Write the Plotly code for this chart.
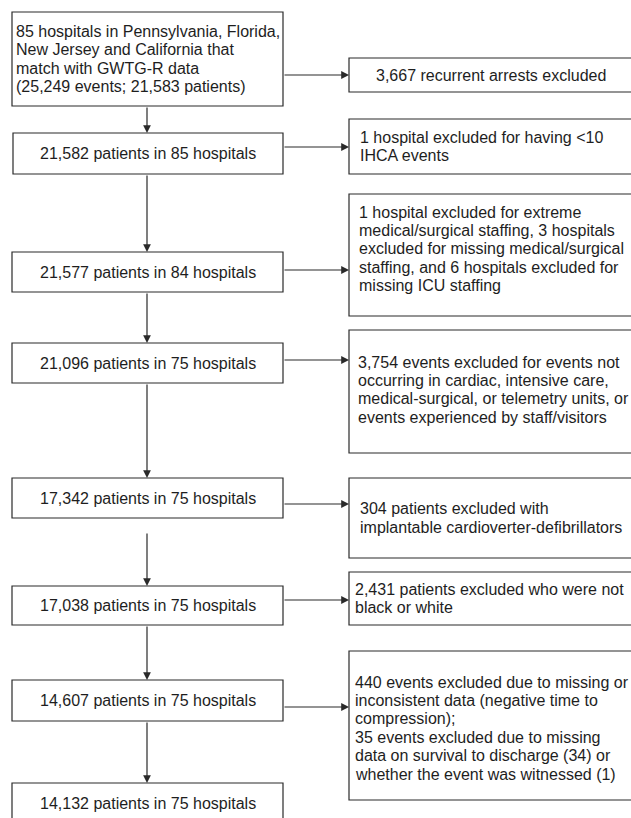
import plotly.graph_objects as go

# ---------------- data (text content of the flow chart) ----------------
main_labels = [
    ["85 hospitals in Pennsylvania, Florida,", "New Jersey and California that",
     "match with GWTG-R data", "(25,249 events; 21,583 patients)"],
    ["21,582 patients in 85 hospitals"],
    ["21,577 patients in 84 hospitals"],
    ["21,096 patients in 75 hospitals"],
    ["17,342 patients in 75 hospitals"],
    ["17,038 patients in 75 hospitals"],
    ["14,607 patients in 75 hospitals"],
    ["14,132 patients in 75 hospitals"],
]
excl_labels = [
    ["3,667 recurrent arrests excluded"],
    ["1 hospital excluded for having <10", "IHCA events"],
    ["1 hospital excluded for extreme", "medical/surgical staffing, 3 hospitals",
     "excluded for missing medical/surgical", "staffing, and 6 hospitals excluded for",
     "missing ICU staffing"],
    ["3,754 events excluded for events not", "occurring in cardiac, intensive care,",
     "medical-surgical, or telemetry units, or", "events experienced by staff/visitors"],
    ["304 patients excluded with", "implantable cardioverter-defibrillators"],
    ["2,431 patients excluded who were not", "black or white"],
    ["440 events excluded due to missing or", "inconsistent data (negative time to",
     "compression);", "35 events excluded due to missing",
     "data on survival to discharge (34) or", "whether the event was witnessed (1)"],
]

# ---------------- layout (pixel positions) ----------------
W, H = 631, 818
main_left = [12, 13, 12, 12, 12, 12, 12, 12]
main_right = 283
main_top = [12, 133, 252, 343, 478, 586, 680, 783]
main_bot = [106, 174, 292, 383, 518, 625, 721, 840]
main_first_line = [31.5, None, None, None, None, None, None, None]
arrow_x = 147
arrow_start = [None, None, None, None, 532, None, None]  # gap after box 5

excl_left = 349
excl_right = 633
excl_top = [58, 119, 194, 330, 478, 572, 651]
excl_bot = [92, 174, 316, 453, 558, 625, 800]
excl_arrow_y = [75, 147, 270, 360, 504, 600, 707]
excl_first_line = [None, None, 212, 362, None, None, 682]
excl_text_x = [None, 358, 357, 356, 358, 353, 353]
LS = 18.4  # line spacing

BORDER = "#2a2a2a"
TXT = "#1e1e1e"
FONT = dict(family="Liberation Sans, Arial, Helvetica, sans-serif", size=16, color=TXT)

fig = go.Figure()
shapes = []
annotations = []


def rect(x0, y0, x1, y1):
    shapes.append(dict(type="rect", xref="x", yref="y", x0=x0, y0=y0, x1=x1, y1=y1,
                       line=dict(color=BORDER, width=1.2), fillcolor="rgba(0,0,0,0)"))


def arrow(x0, y0, x1, y1):
    annotations.append(dict(x=x1, y=y1, ax=x0, ay=y0, xref="x", yref="y",
                            axref="x", ayref="y", text="", showarrow=True,
                            arrowhead=2, arrowsize=1.3, arrowwidth=1.2,
                            arrowcolor=BORDER, standoff=0, startstandoff=0))


def lines_text(lines, x, first_y, anchor):
    for i, ln in enumerate(lines):
        annotations.append(dict(x=x, y=first_y + i * LS, xref="x", yref="y",
                                text=ln, showarrow=False, xanchor=anchor,
                                yanchor="middle", font=FONT))


# main column
for i, lines in enumerate(main_labels):
    rect(main_left[i], main_top[i], main_right, main_bot[i])
    if len(lines) > 1:
        lines_text(lines, main_left[i] + 2, main_first_line[i], "left")
    else:
        yc = (main_top[i] + min(main_bot[i], main_top[i] + 41)) / 2
        lines_text(lines, (main_left[i] + main_right) / 2, yc, "center")

for i in range(len(main_labels) - 1):
    y0 = arrow_start[i] if arrow_start[i] is not None else main_bot[i]
    arrow(arrow_x, y0, arrow_x, main_top[i + 1])

# exclusion column
for i, lines in enumerate(excl_labels):
    rect(excl_left, excl_top[i], excl_right, excl_bot[i])
    n = len(lines)
    if excl_first_line[i] is not None:
        fy = excl_first_line[i]
    else:
        fy = (excl_top[i] + excl_bot[i]) / 2 - (n - 1) * LS / 2
    if excl_text_x[i] is None:
        lines_text(lines, (excl_left + 632) / 2, fy, "center")
    else:
        lines_text(lines, excl_text_x[i], fy, "left")
    arrow(main_right, excl_arrow_y[i], excl_left, excl_arrow_y[i])

fig.update_layout(
    width=W, height=H, margin=dict(l=0, r=0, t=0, b=0),
    paper_bgcolor="white", plot_bgcolor="white",
    xaxis=dict(range=[0, W], visible=False, fixedrange=True),
    yaxis=dict(range=[H, 0], visible=False, fixedrange=True),
    shapes=shapes, annotations=annotations, showlegend=False,
)
fig.write_html(
    "out.html",
    config={"displayModeBar": False},
    post_script="document.body.style.margin='0';document.body.style.overflow='hidden';",
)
